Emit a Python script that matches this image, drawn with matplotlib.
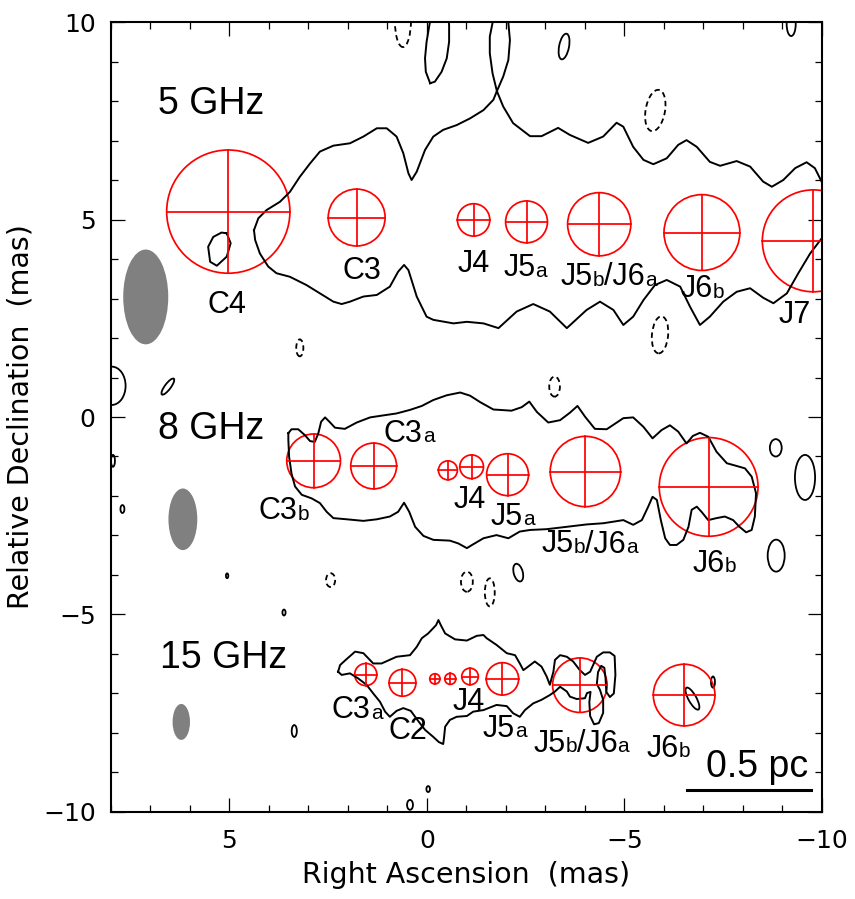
import matplotlib
matplotlib.use('Agg')
import matplotlib.pyplot as plt
from matplotlib.patches import Circle, Ellipse
from matplotlib.ticker import MultipleLocator

plt.rcParams['font.family'] = ['Liberation Sans', 'DejaVu Sans']

# ---------- model components (RA, Dec, radius in mas) ----------
comp5_x = [5.03, 1.78, -1.18, -2.52, -4.36, -6.96, -9.78]
comp5_y = [5.20, 5.05, 4.99, 4.94, 4.88, 4.67, 4.46]
comp5_r = [1.56, 0.72, 0.41, 0.53, 0.80, 0.96, 1.29]

comp8_x = [2.87, 1.35, -0.53, -1.13, -2.04, -4.01, -7.13]
comp8_y = [-1.11, -1.24, -1.35, -1.26, -1.46, -1.38, -1.77]
comp8_r = [0.68, 0.58, 0.24, 0.30, 0.53, 0.89, 1.25]

comp15_x = [1.55, 0.62, -0.20, -0.59, -1.09, -1.91, -3.87, -6.51]
comp15_y = [-6.52, -6.73, -6.63, -6.63, -6.57, -6.63, -6.79, -7.04]
comp15_r = [0.28, 0.34, 0.13, 0.14, 0.21, 0.41, 0.69, 0.78]

# ---------- restoring beams (x, y, width, height) ----------
beam_x = [7.12, 6.18, 6.22]
beam_y = [3.04, -2.59, -7.72]
beam_w = [1.14, 0.73, 0.44]
beam_h = [2.40, 1.56, 0.91]

# ---------- lowest contours ----------
c5_x = [4.38, 4.27, 4.06, 3.72, 3.47, 3.22, 2.96, 2.71, 2.37, 1.95, 1.61, 1.27, 1.02, 0.77,
        0.60, 0.47, 0.39, 0.26, 0.05, -0.16, -0.41, -0.75, -1.09, -1.43, -1.68, -1.77, -1.93,
        -2.18, -2.61, -2.90, -3.32, -3.62, -4.08, -4.46, -4.80, -4.97, -5.22, -5.48, -5.73,
        -6.07, -6.36, -6.57, -6.83, -7.16, -7.42, -7.84, -8.18, -8.51, -8.73, -9.02, -9.32,
        -9.61, -9.82, -9.99, -10.3, -10.3, -9.99, -9.70, -9.40, -9.11, -8.77, -8.51, -8.18,
        -7.84, -7.50, -7.16, -6.91, -6.66, -6.41, -6.07, -5.77, -5.48, -5.22, -4.97, -4.72,
        -4.38, -4.04, -3.54, -3.11, -2.69, -2.27, -1.81, -1.43, -1.01, -0.67, -0.16, 0.01,
        0.26, 0.47, 0.58, 0.73, 0.94, 1.27, 1.61, 1.95, 2.16, 2.37, 2.71, 3.05, 3.47, 3.81,
        4.02, 4.23, 4.35, 4.38]
c5_y = [4.73, 5.03, 5.24, 5.45, 5.70, 6.08, 6.42, 6.72, 6.87, 6.93, 7.10, 7.31, 7.31, 7.10,
        6.68, 6.17, 6.00, 6.21, 6.76, 7.10, 7.27, 7.39, 7.56, 7.77, 8.03, 8.25, 7.86,
        7.44, 7.11, 7.11, 7.32, 7.14, 6.94, 7.10, 7.45, 7.35, 6.84, 6.51, 6.40,
        6.55, 6.89, 7.01, 6.84, 6.46, 6.36, 6.48, 6.34, 5.96, 5.83, 6.00, 6.30,
        6.45, 6.30, 5.96, 5.20, 4.30, 4.52, 4.14, 3.64, 3.13, 2.88, 3.02, 3.26,
        3.17, 2.92, 2.54, 2.33, 2.79, 3.30, 3.47, 3.34, 2.96, 2.54, 2.33, 2.71,
        2.92, 2.71, 2.25, 2.67, 2.86, 2.67, 2.25, 2.37, 2.41, 2.37, 2.46, 2.54,
        3.05, 3.72, 3.85, 3.68, 3.30, 3.09, 3.05, 2.92, 2.86, 2.92, 3.13, 3.34, 3.55, 3.64,
        3.81, 4.14, 4.48, 4.73]

# elongated islands at the top of the 5 GHz map, and one inside C4
isl1_x = [-0.08, 0.03, 0.05, 0.01, -0.06, -0.13, -0.53, -0.56, -0.56, -0.50, -0.37, -0.20, -0.08]
isl1_y = [8.45, 8.74, 9.08, 9.50, 9.92, 10.25, 10.25, 9.92, 9.50, 9.08, 8.74, 8.49, 8.45]
isl2_x = [-1.77, -1.66, -1.59, -1.59, -1.66, -1.75, -1.97, -2.06, -2.10, -2.06, -1.93, -1.77]
isl2_y = [8.25, 8.70, 9.21, 9.63, 9.98, 10.25, 10.25, 9.98, 9.54, 9.04, 8.62, 8.25]
isl3_x = [5.07, 4.97, 5.07, 5.32, 5.49, 5.54, 5.41, 5.20, 5.07]
isl3_y = [4.65, 4.40, 4.06, 3.83, 3.93, 4.31, 4.56, 4.67, 4.65]

c8_x = [3.51, 3.43, 3.26, 3.09, 2.96, 2.84, 2.75, 2.68, 2.58, 2.47, 2.33, 2.08, 1.78, 1.44,
        1.11, 0.77, 0.43, 0.13, -0.16, -0.50, -0.84, -1.09, -1.34, -1.68, -2.14, -2.40, -2.59,
        -2.78, -3.07, -3.37, -3.62, -3.81, -4.00, -4.25, -4.55, -4.97, -5.22, -5.48, -5.71,
        -5.94, -6.15, -6.36, -6.57, -6.73, -6.91, -7.12, -7.33, -7.59, -7.84, -8.05, -8.22,
        -8.33, -8.30, -8.22, -8.08, -7.91, -7.75, -7.54, -7.33, -7.12, -6.95, -6.83, -6.70,
        -6.62, -6.49, -6.32, -6.15, -6.03, -5.92, -5.82, -5.71, -5.60, -5.44, -5.22, -4.97,
        -4.72, -4.46, -4.04, -3.54, -3.03, -2.61, -2.35, -2.06, -1.76, -1.43, -1.14, -1.01,
        -0.79, -0.58, -0.16, 0.09, 0.30, 0.45, 0.58, 0.73, 0.94, 1.27, 1.61, 2.03, 2.37,
        2.54, 2.71, 2.92, 3.17, 3.34, 3.43, 3.49, 3.51, 3.51]
c8_y = [-0.41, -0.31, -0.31, -0.46, -0.61, -0.63, -0.41, -0.12, -0.01, -0.12, -0.27, -0.30,
        -0.14, -0.01, 0.04, 0.09, 0.18, 0.28, 0.43, 0.55, 0.62, 0.54, 0.38, 0.19, 0.16, 0.25,
        0.39, 0.13, -0.14, -0.08, 0.11, 0.28, 0.01, -0.30, -0.31, -0.03, -0.01, -0.25, -0.54,
        -0.33, -0.21, -0.37, -0.67, -0.48, -0.40, -0.50, -0.88, -1.17, -1.24, -1.30, -1.51,
        -1.93, -2.52, -2.86, -2.92, -2.78, -2.61, -2.52, -2.56, -2.61, -2.40, -2.27, -2.35,
        -2.78, -3.11, -3.24, -3.24, -3.07, -2.61, -2.10, -2.02, -2.27, -2.61, -2.73, -2.61,
        -2.65, -2.69, -2.72, -2.78, -2.84, -2.86, -2.90, -3.07, -2.99, -3.07, -3.24, -3.32,
        -3.20, -3.13, -3.11, -3.01, -2.78, -2.40, -2.17, -2.40, -2.52, -2.59, -2.63, -2.59,
        -2.56, -2.40, -2.18, -2.06, -1.97, -1.76, -1.43, -1.01, -0.58, -0.41]

c15_x = [2.25, 2.20, 2.08, 1.82, 1.61, 1.36, 1.15, 0.77, 0.43, 0.26, 0.13, -0.03, -0.23,
         -0.29, -0.35, -0.46, -0.71, -1.01, -1.26, -1.43, -1.51, -1.76, -2.02, -2.23, -2.35,
         -2.44, -2.56, -2.73, -2.90, -3.03, -3.11, -3.20, -3.24, -3.37, -3.54, -3.70, -3.87,
         -4.00, -4.13, -4.30, -4.46, -4.63, -4.75, -4.77, -4.73, -4.63, -4.54, -4.52, -4.49,
         -4.41, -4.33, -4.30, -4.38, -4.46, -4.46, -4.35, -4.23, -4.13, -4.11, -4.14, -4.05,
         -4.00, -3.79, -3.62, -3.54, -3.37, -3.24, -3.11, -2.90, -2.69, -2.48, -2.35, -2.18,
         -2.02, -1.76, -1.43, -1.17, -1.01, -0.75, -0.58, -0.46, -0.43, -0.41, -0.30, -0.16,
         0.05, 0.22, 0.41, 0.60, 0.77, 0.94, 1.06, 1.19, 1.36, 1.53, 1.74, 1.95, 2.16, 2.25]
c15_y = [-6.45, -6.28, -6.17, -5.94, -5.98, -6.24, -6.24, -6.07, -6.03, -5.82, -5.60, -5.48,
         -5.27, -5.14, -5.27, -5.48, -5.63, -5.66, -5.54, -5.52, -5.60, -5.77, -5.98, -6.03,
         -6.24, -6.41, -6.32, -6.19, -6.32, -6.57, -6.78, -6.45, -6.15, -6.03, -6.07, -6.19,
         -6.41, -6.53, -6.45, -6.07, -5.96, -5.96, -6.05, -6.53, -7.00, -7.09, -6.96, -6.61,
         -6.35, -6.30, -6.46, -6.76, -6.91, -7.16, -7.49, -7.75, -7.78, -7.57, -7.22, -6.96,
         -6.99, -7.12, -7.14, -7.08, -6.95, -6.83, -6.95, -7.04, -7.16, -7.25, -7.42, -7.59,
         -7.50, -7.32, -7.29, -7.42, -7.46, -7.57, -7.59, -7.67, -7.84, -8.13, -8.28, -8.23,
         -8.10, -7.92, -7.70, -7.44, -7.37, -7.44, -7.59, -7.46, -7.21, -7.00, -6.78, -6.62,
         -6.49, -6.53, -6.45]

# small closed contours: x, y, width, height, angle, dashed
blob_x = [0.61, -3.47, -5.78, -9.22, -5.90, 7.98, 6.56, 7.95, 7.71, 5.06, 3.62, 3.22,
          -3.23, -8.83, -9.57, -8.84, -2.31, 2.44, -1.01, -1.59, 3.36, 0.43, -0.03,
          -6.72, -7.24]
blob_y = [10.05, 9.38, 7.76, 9.95, 2.08, 0.79, 0.77, -1.11, -2.33, -4.02, -4.95, 1.75,
          0.77, -0.78, -1.53, -3.51, -3.94, -4.13, -4.17, -4.44, -7.95, -9.82, -9.42,
          -7.13, -6.71]
blob_w = [0.41, 0.25, 0.49, 0.23, 0.41, 0.70, 0.15, 0.10, 0.10, 0.06, 0.08, 0.18,
          0.27, 0.30, 0.51, 0.43, 0.23, 0.23, 0.30, 0.25, 0.13, 0.15, 0.09, 0.20, 0.10]
blob_h = [1.37, 0.66, 1.06, 0.61, 0.94, 0.97, 0.50, 0.30, 0.20, 0.12, 0.15, 0.43,
          0.51, 0.44, 1.14, 0.81, 0.46, 0.35, 0.51, 0.71, 0.30, 0.25, 0.15, 0.63, 0.28]
blob_ang = [0, 11, 10, 0, 5, 0, 37, 0, 0, 0, 0, 0, 0, 0, 0, 0, -15, 0, 0, 0, 0, 0, 0, -29, 0]
blob_dash = [1, 0, 1, 0, 1, 0, 0, 0, 0, 0, 0, 1, 1, 0, 0, 0, 0, 1, 1, 1, 0, 0, 0, 0, 0]

# ---------- labels: left edge, baseline, (text, subscript) pieces ----------
lab_x = [5.56, 2.15, -0.78, -1.93, -3.38, -6.42, -8.89,
         1.09, 4.27, -0.68, -1.61, -2.90, -6.73,
         2.41, 0.98, -0.66, -1.41, -2.69, -5.56]
lab_y = [2.63, 3.49, 3.68, 3.57, 3.34, 3.03, 2.39,
         -0.63, -2.59, -2.30, -2.73, -3.43, -3.92,
         -7.63, -8.16, -7.42, -8.09, -8.47, -8.60]
lab_parts = [[('C4', 0)], [('C3', 0)], [('J4', 0)], [('J5', 0), ('a', 1)],
             [('J5', 0), ('b', 1), ('/J6', 0), ('a', 1)], [('J6', 0), ('b', 1)], [('J7', 0)],
             [('C3', 0), ('a', 1)], [('C3', 0), ('b', 1)], [('J4', 0)], [('J5', 0), ('a', 1)],
             [('J5', 0), ('b', 1), ('/J6', 0), ('a', 1)], [('J6', 0), ('b', 1)],
             [('C3', 0), ('a', 1)], [('C2', 0)], [('J4', 0)], [('J5', 0), ('a', 1)],
             [('J5', 0), ('b', 1), ('/J6', 0), ('a', 1)], [('J6', 0), ('b', 1)]]

freq_text = ['5 GHz', '8 GHz', '15 GHz']
freq_x = [6.81, 6.81, 6.76]
freq_y = [7.66, -0.56, -6.36]

bar_x = [-6.58, -9.72]
bar_y = -9.44

MAIN_FS, SUB_FS = 22, 15
RED, LW = '#ff0000', 1.25
AXFONT = ['DejaVu Sans']


def draw_comps(ax, xs, ys, rs):
    for x, y, r in zip(xs, ys, rs):
        ax.add_patch(Circle((x, y), r, fill=False, ec=RED, lw=LW))
        ax.plot([x - r, x + r], [y, y], color=RED, lw=LW)
        ax.plot([x, x], [y - r, y + r], color=RED, lw=LW)


def sub_label(ax, x, y, parts):
    # chain pieces left to right, small letters sit on the same baseline
    prev, prev_fs = None, MAIN_FS
    for txt, small in parts:
        fs = SUB_FS if small else MAIN_FS
        if prev is None:
            prev = ax.text(x, y, txt, fontsize=fs, ha='left', va='baseline')
        else:
            prev = ax.annotate(txt, xy=(1, 0), xycoords=prev, xytext=(0, 0.21 * prev_fs),
                               textcoords='offset points', fontsize=fs, ha='left', va='baseline')
        prev_fs = fs


fig = plt.figure(figsize=(8.55, 8.99), dpi=100)
ax = fig.add_axes([0.1298, 0.0968, 0.8316, 0.8787])
ax.set_xlim(8, -10)
ax.set_ylim(-10, 10)

for x, y, w, h in zip(beam_x, beam_y, beam_w, beam_h):
    ax.add_patch(Ellipse((x, y), w, h, fc='#808080', ec='none'))

kw = dict(color='black', lw=1.4, solid_joinstyle='round')
ax.plot(c5_x, c5_y, **kw)
ax.plot(isl1_x, isl1_y, **kw)
ax.plot(isl2_x, isl2_y, **kw)
ax.plot(isl3_x, isl3_y, **kw)
ax.plot(c8_x, c8_y, **kw)
ax.plot(c15_x, c15_y, **kw)
for x, y, w, h, a, d in zip(blob_x, blob_y, blob_w, blob_h, blob_ang, blob_dash):
    ax.add_patch(Ellipse((x, y), w, h, angle=a, fill=False, ec='black', lw=1.3,
                         ls=(0, (3, 2)) if d else '-'))

draw_comps(ax, comp5_x, comp5_y, comp5_r)
draw_comps(ax, comp8_x, comp8_y, comp8_r)
draw_comps(ax, comp15_x, comp15_y, comp15_r)

for x, y, parts in zip(lab_x, lab_y, lab_parts):
    sub_label(ax, x, y, parts)
for t, x, y in zip(freq_text, freq_x, freq_y):
    ax.text(x, y, t, fontsize=27, ha='left', va='baseline')

# scale bar
ax.plot(bar_x, [bar_y, bar_y], color='black', lw=2.2)
ax.text(-9.65, -9.11, '0.5 pc', fontsize=27, ha='right', va='baseline')

ax.xaxis.set_major_locator(MultipleLocator(5))
ax.xaxis.set_minor_locator(MultipleLocator(1))
ax.yaxis.set_major_locator(MultipleLocator(5))
ax.yaxis.set_minor_locator(MultipleLocator(1))
ax.tick_params(which='both', direction='in', top=True, right=True, labelsize=18)
ax.tick_params(which='major', length=10, width=0.9)
ax.tick_params(which='minor', length=5, width=0.9)
ax.tick_params(axis='x', pad=12)
ax.tick_params(axis='y', pad=11)
for lab in ax.get_xticklabels() + ax.get_yticklabels():
    lab.set_family(AXFONT)
for s in ax.spines.values():
    s.set_linewidth(1.5)

ax.set_xlabel('Right Ascension  (mas)', fontsize=20.5, family=AXFONT, labelpad=6)
ax.set_ylabel('Relative Declination  (mas)', fontsize=20.5, family=AXFONT, labelpad=6)

plt.savefig('out.png', dpi=100)
plt.close()
